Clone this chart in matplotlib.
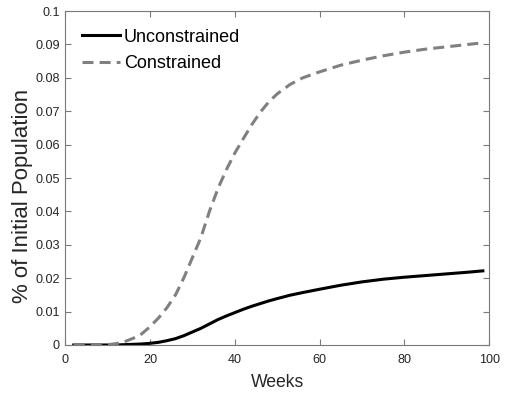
import numpy as np
import matplotlib
matplotlib.use("Agg")
import matplotlib.pyplot as plt

plt.rcParams['font.family'] = ['Liberation Sans', 'DejaVu Sans']

# cumulative share of the initial population, by week
weeks = [2, 6, 10, 12, 14, 16, 18, 20, 22, 24, 26, 28, 30, 32, 34, 36, 38, 40,
         42, 44, 46, 48, 50, 53, 56, 60, 65, 70, 75, 80, 85, 90, 95, 98.5]
unconstrained = [0, 0, 0, 0.00002, 0.0001, 0.0002, 0.0003, 0.0005, 0.0008,
                 0.0013, 0.0019, 0.0028, 0.0039, 0.0050, 0.0063, 0.0076,
                 0.0087, 0.0097, 0.0107, 0.0116, 0.0124, 0.0132, 0.0139,
                 0.0149, 0.0157, 0.0167, 0.0179, 0.0189, 0.0197, 0.0203,
                 0.0208, 0.0213, 0.0218, 0.0222]
constrained = [0, 0, 0.0001, 0.0004, 0.001, 0.002, 0.0033, 0.0055, 0.0081,
               0.0112, 0.0150, 0.0202, 0.0262, 0.0322, 0.0400, 0.0468,
               0.0525, 0.0575, 0.0618, 0.0660, 0.0697, 0.0728, 0.0752,
               0.0780, 0.0800, 0.0818, 0.0838, 0.0853, 0.0866, 0.0877,
               0.0886, 0.0893, 0.0900, 0.0905]

fig = plt.figure(figsize=(5.08, 3.95), dpi=100)
ax = fig.add_axes([0.1285, 0.1266, 0.8345, 0.8454])

ax.plot(weeks, unconstrained, color='black', lw=2.2, label='Unconstrained')
ax.plot(weeks, constrained, color='#808080', lw=2.2, dashes=(3.6, 2.0),
        label='Constrained')

ax.set_xlim(0, 100)
ax.set_ylim(0, 0.1)
ax.set_xticks(np.arange(0, 101, 20))
ax.set_yticks(np.arange(0, 0.101, 0.01))
ax.set_yticklabels(['0'] + ['%g' % v for v in np.arange(0.01, 0.101, 0.01).round(2)])

for s in ax.spines.values():
    s.set_color('#7a7a7a')
    s.set_linewidth(0.8)
ax.tick_params(direction='in', length=4, width=0.8, color='#7a7a7a',
               labelcolor='#262626', labelsize=9.1,
               top=True, right=True, pad=4)
ax.tick_params(axis='x', pad=6.5)

ax.set_xlabel('Weeks', fontsize=12.7, color='#262626', labelpad=6)
ax.set_ylabel('% of Initial Population', fontsize=16, color='#262626',
              va='center')
ax.yaxis.set_label_coords(-0.102, 0.445)

ax.legend(loc='upper left', frameon=False, fontsize=13, handlelength=2.1,
          handletextpad=0.22, labelspacing=0.53, borderaxespad=0.3,
          bbox_to_anchor=(0.01, 0.985))

fig.savefig('out.png', dpi=100)
